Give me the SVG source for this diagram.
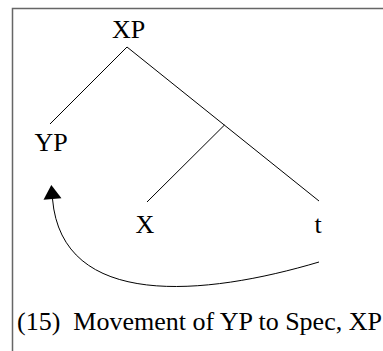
<svg xmlns="http://www.w3.org/2000/svg" width="383" height="351" viewBox="0 0 383 351">
<style>
.lbl{font-family:"Liberation Serif","Times New Roman",serif;font-size:26px;fill:#000;}
.edge{stroke:#000;stroke-width:1;fill:none;}
</style>
<defs>
<marker id="ah" markerUnits="userSpaceOnUse" markerWidth="20" markerHeight="22" refX="0" refY="10" viewBox="0 0 20 22" orient="auto" overflow="visible">
<path d="M0,1 L14,10 L0,19 z" fill="#000"/>
</marker>
</defs>
<rect x="12.5" y="8.5" width="420" height="420" fill="#fff" stroke="#666" stroke-width="1.5"/>
<g id="connectors">
<line class="edge" x1="127" y1="47" x2="50" y2="124"/>
<line class="edge" x1="127" y1="47" x2="319" y2="201"/>
<line class="edge" x1="224.5" y1="125" x2="147" y2="202"/>
<path class="edge" d="M319,262 C205,296 62,310 52.5,199" marker-end="url(#ah)"/>
</g>
<g id="node-XP"><text class="lbl" x="128.5" y="38" text-anchor="middle">XP</text></g>
<g id="node-YP"><text class="lbl" x="51" y="151" text-anchor="middle">YP</text></g>
<g id="node-X"><text class="lbl" x="145" y="233" text-anchor="middle">X</text></g>
<g id="node-t"><text class="lbl" x="318" y="233" text-anchor="middle">t</text></g>
<g id="caption"><text class="lbl" x="17" y="330" style="white-space:pre" xml:space="preserve">(15)  Movement of YP to Spec, XP</text></g>
</svg>
